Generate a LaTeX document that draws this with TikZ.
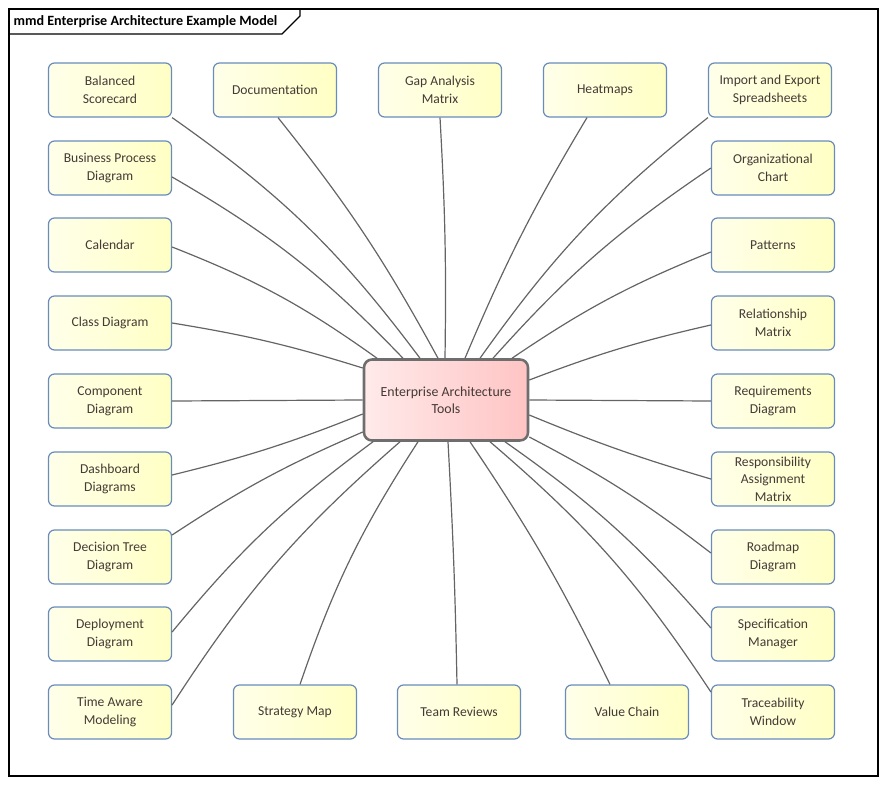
\documentclass[tikz,border=0pt]{standalone}
\usepackage{fontspec}
\setmainfont{Carlito}
\usepackage{xcolor}
\usetikzlibrary{calc}

\definecolor{leafline}{RGB}{104,140,188}
\definecolor{leafleft}{RGB}{255,255,234}
\definecolor{leafright}{RGB}{255,255,196}
\definecolor{hubleft}{RGB}{255,234,234}
\definecolor{hubright}{RGB}{255,196,196}
\definecolor{hubline}{RGB}{110,110,110}
\definecolor{linkgray}{RGB}{100,100,100}
\definecolor{txt}{RGB}{68,58,54}

\tikzset{
	leaf/.style={draw=leafline, line width=0.9pt, rounded corners=4.5pt,
		left color=leafleft, right color=leafright,
		minimum width=92.25pt, minimum height=40.5pt, inner sep=1pt,
		align=center, text=txt, font=\fontsize{10.2}{13.3}\selectfont},
	hub/.style={draw=hubline, line width=1.9pt, rounded corners=6pt,
		left color=hubleft, right color=hubright,
		minimum width=123pt, minimum height=60.75pt,
		align=center, text=txt, font=\fontsize{10.4}{13}\selectfont},
	link/.style={draw=linkgray, line width=0.9pt}
}

\begin{document}
\begin{tikzpicture}[x=0.75pt, y=-0.75pt]
					\useasboundingbox (0,0) rectangle (886,785);
					
					% frame and title tab
					\begin{scope}[line width=0.8pt]
						\draw (9,9) rectangle (878,776);
						\draw (9,34) -- (282,34) -- (300,16) -- (300,9);
						\node [anchor=west, inner sep=0pt, font=\bfseries\fontsize{10.6}{12}\selectfont] (title) at (13,22) {mmd Enterprise Architecture Example Model};
					\end{scope}
					
					\node [hub] (hub) at (446,400) {Enterprise Architecture\\Tools};
					
					% left column
					\node [leaf] (bsc) at (110,90) {Balanced\\Scorecard};
					\node [leaf] (bpd) at (110,168) {Business Process\\Diagram};
					\node [leaf] (cal) at (110,245) {Calendar};
					\node [leaf] (cls) at (110,323) {Class Diagram};
					\node [leaf] (cmp) at (110,401) {Component\\Diagram};
					\node [leaf] (dsh) at (110,479) {Dashboard\\Diagrams};
					\node [leaf] (dtr) at (110,557) {Decision Tree\\Diagram};
					\node [leaf] (dep) at (110,634) {Deployment\\Diagram};
					\node [leaf] (taw) at (110,712) {Time Aware\\Modeling};
					
					% top row
					\node [leaf] (doc) at (275,90) {Documentation};
					\node [leaf] (gap) at (440,90) {Gap Analysis\\Matrix};
					\node [leaf] (heat) at (605,90) {Heatmaps};
					\node [leaf] (imp) at (770,90) {Import and Export\\Spreadsheets};
					
					% right column
					\node [leaf] (org) at (773,168) {Organizational\\Chart};
					\node [leaf] (pat) at (773,245) {Patterns};
					\node [leaf] (rel) at (773,323) {Relationship\\Matrix};
					\node [leaf] (req) at (773,401) {Requirements\\Diagram};
					\node [leaf, font=\fontsize{10.2}{13}\selectfont] (rsp) at (773,479) {Responsibility\\Assignment\\Matrix};
					\node [leaf] (rmp) at (773,557) {Roadmap\\Diagram};
					\node [leaf] (spc) at (773,634) {Specification\\Manager};
					\node [leaf] (trc) at (773,712) {Traceability\\Window};
					
					% bottom row
					\node [leaf] (str) at (295,712) {Strategy Map};
					\node [leaf] (team) at (459,712) {Team Reviews};
					\node [leaf] (val) at (627,712) {Value Chain};
					
					% links, left side
					\begin{scope}[link]
						\draw ($ (hub.north) + (-26,0) $) to [bend right=9] (bsc.south east);
						\draw ($ (hub.north) + (-43,0) $) to [bend right=8] ($ (bpd.east) + (0,9) $);
						\draw ($ (hub.north) + (-69,0) $) to [bend right=7] ($ (cal.east) + (0,2) $);
						\draw ($ (hub.west) + (0,-32) $) to [bend right=4] (cls.east);
						\draw (hub.west) -- (cmp.east);
						\draw ($ (hub.west) + (0,14) $) to [bend left=4] ($ (dsh.east) + (0,-4) $);
						\draw ($ (hub.west) + (0,32) $) to [bend right=5] ($ (dtr.east) + (0,-22) $);
						\draw ($ (hub.south) + (-73,0) $) to [bend right=7] ($ (dep.east) + (0,-2) $);
						\draw ($ (hub.south) + (-46,0) $) to [bend right=8] ($ (taw.east) + (0,-7) $);
					\end{scope}
					
					% links, top and bottom
					\begin{scope}[link]
						\draw ($ (hub.north) + (-8,0) $) to [bend right=5] ($ (doc.south) + (3,0) $);
						\draw ($ (hub.north) + (-1,0) $) to [bend right=2] (gap.south);
						\draw ($ (hub.north) + (19,0) $) to [bend left=4] ($ (heat.south) + (-18,0) $);
						\draw ($ (hub.south) + (-28,0) $) to [bend right=7] ($ (str.north) + (5,0) $);
						\draw ($ (hub.south) + (2,0) $) to [bend left=1] ($ (team.north) + (-2,0) $);
						\draw ($ (hub.south) + (24,0) $) to [bend left=4] ($ (val.north) + (-17,0) $);
					\end{scope}
					
					% links, right side
					\begin{scope}[link]
						\draw ($ (hub.north) + (34,0) $) to [bend left=8] (imp.south west);
						\draw ($ (hub.north) + (47,0) $) to [bend left=7] (org.west);
						\draw ($ (hub.north) + (66,0) $) to [bend left=6] ($ (pat.west) + (0,7) $);
						\draw ($ (hub.east) + (0,-20) $) to [bend left=4] ($ (rel.west) + (0,2) $);
						\draw (hub.east) -- (req.west);
						\draw ($ (hub.east) + (0,15) $) to [bend right=3] (rsp.west);
						\draw ($ (hub.east) + (0,37) $) to [bend left=5] ($ (rmp.west) + (0,-4) $);
						\draw ($ (hub.south) + (59,0) $) to [bend left=7] ($ (spc.west) + (0,-6) $);
						\draw ($ (hub.south) + (44,0) $) to [bend left=8] ($ (trc.west) + (0,-20) $);
					\end{scope}
				\end{tikzpicture}
\end{document}
